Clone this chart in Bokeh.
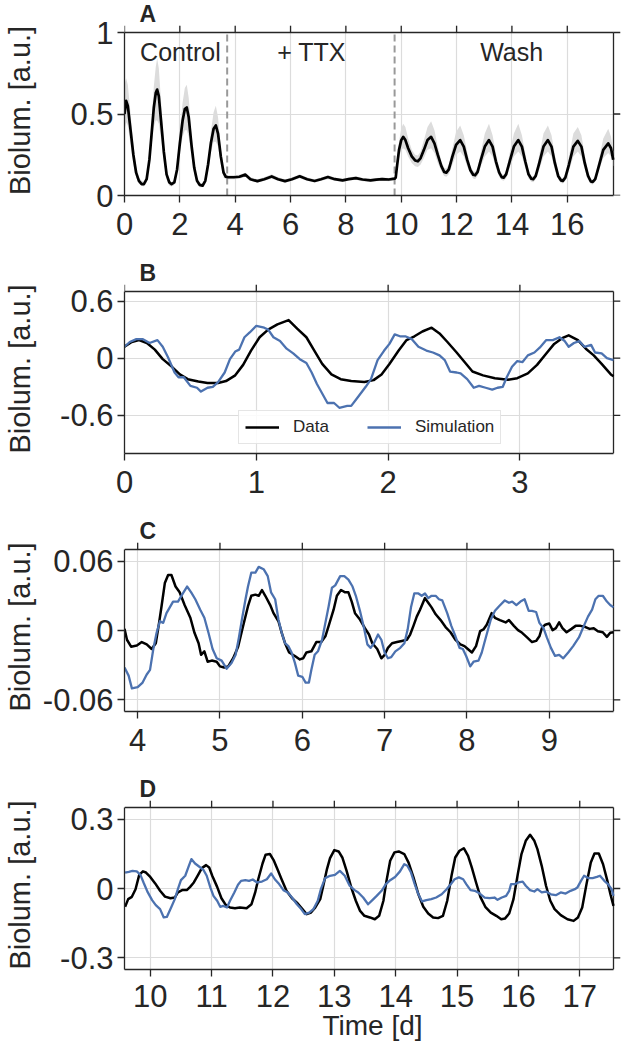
from bokeh.plotting import figure
from bokeh.models import (FixedTicker, CustomJSTickFormatter, Range1d,
                          Label, Legend, LegendItem, ColumnDataSource)
from bokeh.layouts import column
from bokeh.embed import file_html
from bokeh.resources import INLINE

# ---------------- data ----------------
# Panel A: (time [d], mean, band upper, band lower)
a_trace = [
    (0.00, 0.50, 0.68, 0.40), (0.06, 0.58, 0.72, 0.45), (0.12, 0.55, 0.68, 0.43),
    (0.22, 0.40, 0.50, 0.31), (0.32, 0.25, 0.31, 0.19), (0.42, 0.14, 0.18, 0.11),
    (0.52, 0.09, 0.11, 0.07), (0.62, 0.07, 0.09, 0.06), (0.70, 0.07, 0.085, 0.055),
    (0.80, 0.10, 0.12, 0.08), (0.90, 0.22, 0.27, 0.18), (0.98, 0.38, 0.46, 0.31),
    (1.06, 0.54, 0.67, 0.42), (1.13, 0.63, 0.79, 0.46), (1.18, 0.65, 0.84, 0.46),
    (1.24, 0.61, 0.78, 0.44), (1.32, 0.46, 0.58, 0.35), (1.42, 0.27, 0.33, 0.21),
    (1.52, 0.13, 0.16, 0.10), (1.62, 0.08, 0.095, 0.06), (1.70, 0.07, 0.08, 0.055),
    (1.80, 0.08, 0.10, 0.065), (1.90, 0.16, 0.20, 0.13), (2.00, 0.32, 0.40, 0.26),
    (2.10, 0.46, 0.57, 0.36), (2.18, 0.53, 0.66, 0.40), (2.25, 0.54, 0.68, 0.40),
    (2.32, 0.48, 0.60, 0.36), (2.42, 0.31, 0.38, 0.24), (2.52, 0.17, 0.20, 0.13),
    (2.62, 0.09, 0.11, 0.07), (2.72, 0.065, 0.08, 0.05), (2.82, 0.06, 0.075, 0.05),
    (2.92, 0.09, 0.11, 0.07), (3.02, 0.19, 0.23, 0.15), (3.12, 0.32, 0.39, 0.26),
    (3.22, 0.41, 0.51, 0.33), (3.30, 0.43, 0.55, 0.33), (3.38, 0.38, 0.48, 0.30),
    (3.48, 0.24, 0.29, 0.19), (3.58, 0.14, 0.16, 0.11), (3.66, 0.115, 0.13, 0.10),
    (3.75, 0.112, 0.125, 0.10), (3.95, 0.112, 0.125, 0.10), (4.15, 0.115, 0.128, 0.103),
    (4.37, 0.128, 0.14, 0.115), (4.55, 0.10, 0.112, 0.09), (4.80, 0.088, 0.10, 0.078),
    (5.05, 0.10, 0.112, 0.09), (5.32, 0.117, 0.13, 0.105), (5.55, 0.10, 0.112, 0.09),
    (5.80, 0.088, 0.10, 0.078), (6.05, 0.10, 0.11, 0.09), (6.33, 0.118, 0.13, 0.106),
    (6.60, 0.10, 0.11, 0.09), (6.87, 0.089, 0.10, 0.08), (7.10, 0.10, 0.11, 0.09),
    (7.35, 0.113, 0.125, 0.10), (7.60, 0.10, 0.11, 0.09), (7.88, 0.093, 0.103, 0.083),
    (8.10, 0.10, 0.11, 0.09), (8.36, 0.107, 0.118, 0.097), (8.60, 0.098, 0.108, 0.088),
    (8.89, 0.093, 0.103, 0.083), (9.10, 0.097, 0.107, 0.087), (9.31, 0.10, 0.11, 0.09),
    (9.55, 0.098, 0.108, 0.088), (9.76, 0.103, 0.113, 0.093), (9.80, 0.11, 0.12, 0.10),
    (9.84, 0.17, 0.20, 0.15), (9.92, 0.28, 0.33, 0.23), (10.00, 0.34, 0.41, 0.28),
    (10.07, 0.36, 0.44, 0.29), (10.15, 0.34, 0.42, 0.28), (10.25, 0.29, 0.35, 0.24),
    (10.38, 0.24, 0.28, 0.20), (10.50, 0.215, 0.25, 0.18), (10.60, 0.21, 0.245, 0.175),
    (10.70, 0.23, 0.27, 0.19), (10.82, 0.28, 0.34, 0.23), (10.95, 0.34, 0.42, 0.28),
    (11.08, 0.36, 0.455, 0.29), (11.20, 0.32, 0.40, 0.26), (11.32, 0.25, 0.30, 0.20),
    (11.45, 0.18, 0.21, 0.15), (11.55, 0.145, 0.17, 0.12), (11.63, 0.14, 0.165, 0.115),
    (11.72, 0.16, 0.19, 0.13), (11.85, 0.24, 0.29, 0.19), (11.98, 0.31, 0.39, 0.25),
    (12.13, 0.34, 0.43, 0.27), (12.26, 0.30, 0.37, 0.24), (12.38, 0.22, 0.27, 0.18),
    (12.50, 0.155, 0.18, 0.13), (12.60, 0.127, 0.15, 0.105), (12.67, 0.124, 0.145, 0.10),
    (12.76, 0.145, 0.17, 0.12), (12.88, 0.22, 0.27, 0.18), (13.02, 0.30, 0.38, 0.24),
    (13.17, 0.34, 0.44, 0.27), (13.30, 0.30, 0.37, 0.24), (13.42, 0.21, 0.26, 0.17),
    (13.54, 0.14, 0.165, 0.115), (13.63, 0.113, 0.13, 0.095), (13.70, 0.11, 0.128, 0.09),
    (13.79, 0.13, 0.155, 0.105), (13.92, 0.21, 0.26, 0.17), (14.07, 0.30, 0.38, 0.24),
    (14.23, 0.34, 0.44, 0.27), (14.36, 0.30, 0.37, 0.24), (14.48, 0.21, 0.26, 0.17),
    (14.60, 0.13, 0.155, 0.105), (14.70, 0.103, 0.12, 0.085), (14.77, 0.10, 0.117, 0.082),
    (14.86, 0.12, 0.14, 0.10), (14.99, 0.20, 0.25, 0.16), (15.14, 0.30, 0.38, 0.24),
    (15.30, 0.34, 0.43, 0.27), (15.43, 0.30, 0.37, 0.24), (15.55, 0.20, 0.25, 0.16),
    (15.67, 0.12, 0.145, 0.10), (15.77, 0.093, 0.11, 0.077), (15.84, 0.09, 0.106, 0.074),
    (15.93, 0.11, 0.13, 0.09), (16.06, 0.19, 0.24, 0.15), (16.22, 0.30, 0.38, 0.24),
    (16.38, 0.335, 0.42, 0.27), (16.51, 0.30, 0.37, 0.24), (16.63, 0.20, 0.25, 0.16),
    (16.75, 0.12, 0.145, 0.10), (16.85, 0.086, 0.10, 0.07), (16.92, 0.083, 0.097, 0.068),
    (17.01, 0.10, 0.12, 0.085), (17.14, 0.18, 0.22, 0.15), (17.30, 0.28, 0.35, 0.23),
    (17.48, 0.32, 0.41, 0.26), (17.58, 0.29, 0.36, 0.24), (17.66, 0.22, 0.27, 0.18),
]
a_phase_bounds = [3.71, 9.76]
a_phase_names = ["Control", "+ TTX", "Wash"]
a_phase_label_x = [2.02, 6.76, 13.99]

# Panel B: (time, value)
b_data = [
    (0.00, 0.12), (0.055, 0.17), (0.11, 0.19), (0.17, 0.16), (0.23, 0.09), (0.29, -0.01),
    (0.36, -0.09), (0.42, -0.17), (0.48, -0.22), (0.56, -0.245), (0.63, -0.26), (0.71, -0.26),
    (0.77, -0.24), (0.84, -0.18), (0.90, -0.07), (0.96, 0.08), (1.025, 0.22), (1.09, 0.30),
    (1.16, 0.355), (1.245, 0.40), (1.31, 0.31), (1.38, 0.22), (1.44, 0.08), (1.50, -0.06),
    (1.57, -0.17), (1.64, -0.22), (1.72, -0.24), (1.82, -0.25), (1.89, -0.23), (1.95, -0.17),
    (2.01, -0.06), (2.08, 0.08), (2.14, 0.19), (2.20, 0.23), (2.26, 0.28), (2.33, 0.32),
    (2.39, 0.26), (2.45, 0.17), (2.52, 0.06), (2.58, -0.04), (2.64, -0.14), (2.72, -0.18),
    (2.81, -0.21), (2.91, -0.225), (2.98, -0.21), (3.06, -0.16), (3.13, -0.07), (3.20, 0.05),
    (3.26, 0.15), (3.32, 0.21), (3.37, 0.24), (3.44, 0.19), (3.50, 0.10), (3.56, 0.03),
    (3.62, -0.06), (3.69, -0.17), (3.71, -0.19),
]
b_sim = [
    (0.00, 0.12), (0.04, 0.17), (0.09, 0.20), (0.14, 0.20), (0.19, 0.16), (0.25, 0.19),
    (0.29, 0.12), (0.33, 0.01), (0.38, -0.15), (0.41, -0.20), (0.45, -0.20), (0.50, -0.29),
    (0.55, -0.31), (0.58, -0.35), (0.63, -0.31), (0.67, -0.30), (0.71, -0.25), (0.76, -0.15),
    (0.80, -0.01), (0.84, 0.07), (0.87, 0.09), (0.91, 0.22), (0.95, 0.27), (1.00, 0.34),
    (1.06, 0.32), (1.09, 0.30), (1.13, 0.22), (1.18, 0.18), (1.23, 0.10), (1.28, 0.05),
    (1.33, -0.01), (1.38, -0.05), (1.42, -0.15), (1.46, -0.27), (1.50, -0.37), (1.54, -0.47),
    (1.59, -0.47), (1.63, -0.52), (1.69, -0.50), (1.72, -0.50), (1.77, -0.41), (1.83, -0.30),
    (1.87, -0.22), (1.92, -0.02), (1.97, 0.08), (2.01, 0.15), (2.05, 0.25), (2.09, 0.23),
    (2.13, 0.23), (2.18, 0.20), (2.23, 0.12), (2.29, 0.08), (2.34, 0.06), (2.39, 0.03),
    (2.43, -0.02), (2.47, -0.14), (2.52, -0.15), (2.55, -0.16), (2.60, -0.22), (2.65, -0.31),
    (2.69, -0.29), (2.74, -0.31), (2.79, -0.33), (2.83, -0.31), (2.87, -0.30), (2.90, -0.20),
    (2.94, -0.09), (2.98, -0.03), (3.02, -0.04), (3.06, 0.03), (3.11, 0.06), (3.15, 0.11),
    (3.20, 0.19), (3.25, 0.19), (3.30, 0.22), (3.34, 0.18), (3.37, 0.12), (3.41, 0.16),
    (3.45, 0.18), (3.49, 0.12), (3.54, 0.14), (3.57, 0.06), (3.62, 0.05), (3.66, 0.00),
    (3.71, -0.02),
]

# Panel C
c_data = [
    (3.84, 0.0014), (3.87, -0.008), (3.92, -0.014), (3.99, -0.013), (4.05, -0.010), (4.11, -0.012),
    (4.17, -0.016), (4.22, -0.011), (4.26, 0.0066), (4.29, 0.021), (4.33, 0.041), (4.37, 0.048),
    (4.41, 0.048), (4.46, 0.038), (4.51, 0.033), (4.57, 0.022), (4.64, 0.011), (4.69, -0.002),
    (4.74, -0.011), (4.77, -0.021), (4.81, -0.018), (4.85, -0.027), (4.90, -0.026), (4.96, -0.027),
    (5.00, -0.031), (5.05, -0.032), (5.10, -0.031), (5.16, -0.024), (5.22, -0.014), (5.28, 0.0037),
    (5.34, 0.021), (5.38, 0.030), (5.43, 0.031), (5.47, 0.030), (5.51, 0.035), (5.55, 0.030),
    (5.61, 0.022), (5.65, 0.015), (5.71, 0.008), (5.75, -0.002), (5.79, -0.011), (5.84, -0.019),
    (5.91, -0.022), (5.97, -0.025), (6.01, -0.024), (6.05, -0.019), (6.11, -0.018), (6.17, -0.010),
    (6.23, -0.010), (6.28, -0.005), (6.32, 0.004), (6.38, 0.018), (6.42, 0.030), (6.47, 0.035),
    (6.52, 0.033), (6.56, 0.033), (6.60, 0.025), (6.64, 0.015), (6.70, 0.0095), (6.76, 0.002),
    (6.81, -0.0035), (6.85, -0.011), (6.91, -0.016), (6.96, -0.024), (7.00, -0.021), (7.04, -0.015),
    (7.09, -0.011), (7.15, -0.010), (7.21, -0.009), (7.27, -0.008), (7.31, -0.0035), (7.35, 0.004),
    (7.39, 0.012), (7.43, 0.018), (7.49, 0.028), (7.53, 0.024), (7.57, 0.020), (7.62, 0.014),
    (7.68, 0.009), (7.74, 0.003), (7.80, -0.0015), (7.86, -0.008), (7.92, -0.012), (7.97, -0.0135),
    (8.01, -0.016), (8.06, -0.019), (8.11, -0.0135), (8.16, -0.0006), (8.20, 0.0009), (8.24, 0.005),
    (8.30, 0.015), (8.34, 0.011), (8.40, 0.009), (8.47, 0.007), (8.51, 0.009), (8.57, 0.004),
    (8.62, 0.0003), (8.67, -0.002), (8.73, -0.006), (8.79, -0.010), (8.84, -0.009), (8.88, -0.005),
    (8.91, 0.002), (8.95, 0.005), (9.00, 0.006), (9.04, 0.0003), (9.08, 0.002), (9.12, 0.007),
    (9.16, 0.002), (9.21, -0.0015), (9.27, 0.0014), (9.32, 0.004), (9.38, 0.004), (9.44, 0.003),
    (9.49, 0.0014), (9.54, 0.002), (9.59, -0.0006), (9.65, -0.0015), (9.70, -0.0055), (9.74, -0.002),
    (9.78, -0.0015),
]
c_sim = [
    (3.84, -0.032), (3.89, -0.039), (3.93, -0.050), (4.00, -0.049), (4.06, -0.045), (4.11, -0.038),
    (4.15, -0.034), (4.19, -0.016), (4.23, -0.002), (4.27, 0.008), (4.31, 0.0066), (4.35, 0.015),
    (4.39, 0.020), (4.43, 0.025), (4.49, 0.025), (4.54, 0.031), (4.60, 0.038), (4.65, 0.033),
    (4.70, 0.027), (4.76, 0.018), (4.81, 0.011), (4.86, -0.002), (4.91, -0.016), (4.96, -0.024),
    (5.02, -0.026), (5.08, -0.033), (5.14, -0.028), (5.19, -0.021), (5.23, -0.006), (5.27, 0.011),
    (5.31, 0.027), (5.34, 0.038), (5.38, 0.050), (5.43, 0.050), (5.47, 0.055), (5.53, 0.053),
    (5.58, 0.047), (5.62, 0.033), (5.67, 0.027), (5.71, 0.0095), (5.75, -0.002), (5.79, -0.011),
    (5.83, -0.0135), (5.87, -0.019), (5.91, -0.028), (5.95, -0.039), (6.00, -0.040), (6.04, -0.045),
    (6.08, -0.045), (6.11, -0.034), (6.15, -0.021), (6.19, -0.018), (6.24, -0.008), (6.28, 0.0066),
    (6.32, 0.021), (6.36, 0.037), (6.40, 0.039), (6.46, 0.047), (6.51, 0.047), (6.56, 0.044),
    (6.61, 0.038), (6.65, 0.030), (6.70, 0.017), (6.75, 0.002), (6.79, -0.012), (6.83, -0.015),
    (6.87, -0.011), (6.92, -0.0035), (6.96, -0.008), (7.00, -0.019), (7.04, -0.024), (7.08, -0.023),
    (7.13, -0.018), (7.19, -0.015), (7.24, -0.011), (7.28, 0.001), (7.32, 0.020), (7.36, 0.032),
    (7.41, 0.032), (7.45, 0.030), (7.49, 0.032), (7.53, 0.028), (7.57, 0.030), (7.62, 0.030),
    (7.66, 0.027), (7.70, 0.026), (7.76, 0.015), (7.81, 0.004), (7.86, -0.005), (7.91, -0.015),
    (7.95, -0.016), (7.99, -0.022), (8.04, -0.031), (8.08, -0.027), (8.14, -0.026), (8.18, -0.019),
    (8.21, -0.011), (8.25, -0.0006), (8.29, 0.0095), (8.34, 0.017), (8.39, 0.021), (8.46, 0.026),
    (8.51, 0.024), (8.55, 0.025), (8.60, 0.022), (8.65, 0.025), (8.70, 0.027), (8.75, 0.017),
    (8.79, 0.017), (8.84, 0.016), (8.88, 0.0066), (8.93, 0.002), (8.97, -0.006), (9.02, -0.015),
    (9.07, -0.022), (9.12, -0.021), (9.17, -0.024), (9.23, -0.019), (9.29, -0.0135), (9.36, -0.006),
    (9.42, 0.004), (9.47, 0.012), (9.52, 0.018), (9.56, 0.027), (9.60, 0.030), (9.65, 0.030),
    (9.70, 0.025), (9.74, 0.022), (9.78, 0.020),
]

# Panel D
d_data = [
    (9.59, -0.079), (9.64, -0.046), (9.70, -0.036), (9.76, -0.003), (9.82, 0.059), (9.88, 0.074),
    (9.93, 0.069), (10.00, 0.050), (10.08, 0.022), (10.16, -0.010), (10.24, -0.035), (10.33, -0.042),
    (10.40, -0.039), (10.45, -0.017), (10.52, -0.007), (10.60, -0.006), (10.65, 0.007), (10.71, 0.026),
    (10.78, 0.059), (10.84, 0.088), (10.91, 0.101), (10.96, 0.091), (11.01, 0.055), (11.09, 0.007),
    (11.16, -0.042), (11.23, -0.071), (11.30, -0.082), (11.38, -0.085), (11.46, -0.082), (11.57, -0.085),
    (11.65, -0.068), (11.71, -0.017), (11.76, 0.040), (11.83, 0.108), (11.88, 0.146), (11.95, 0.149),
    (12.01, 0.123), (12.08, 0.079), (12.14, 0.040), (12.22, -0.010), (12.31, -0.042), (12.39, -0.061),
    (12.48, -0.089), (12.55, -0.111), (12.62, -0.104), (12.69, -0.082), (12.77, -0.046), (12.82, 0.012),
    (12.88, 0.084), (12.93, 0.131), (13.00, 0.166), (13.07, 0.160), (13.13, 0.134), (13.20, 0.076),
    (13.28, 0.001), (13.35, -0.053), (13.42, -0.097), (13.49, -0.118), (13.58, -0.125), (13.66, -0.133),
    (13.73, -0.118), (13.80, -0.053), (13.85, 0.033), (13.91, 0.120), (13.98, 0.156), (14.05, 0.160),
    (14.14, 0.149), (14.21, 0.112), (14.29, 0.048), (14.37, -0.025), (14.45, -0.079), (14.53, -0.108),
    (14.61, -0.125), (14.69, -0.128), (14.77, -0.118), (14.84, -0.053), (14.91, 0.055), (14.97, 0.134),
    (15.04, 0.163), (15.11, 0.174), (15.18, 0.141), (15.24, 0.091), (15.31, 0.026), (15.38, -0.036),
    (15.46, -0.079), (15.55, -0.104), (15.64, -0.118), (15.72, -0.133), (15.78, -0.130), (15.85, -0.108),
    (15.92, -0.046), (15.99, 0.062), (16.05, 0.149), (16.12, 0.206), (16.19, 0.232), (16.26, 0.206),
    (16.31, 0.170), (16.38, 0.098), (16.45, 0.012), (16.52, -0.053), (16.59, -0.089), (16.69, -0.115),
    (16.80, -0.133), (16.90, -0.140), (16.97, -0.125), (17.04, -0.082), (17.11, 0.019), (17.18, 0.112),
    (17.24, 0.151), (17.31, 0.151), (17.38, 0.105), (17.45, 0.033), (17.50, -0.025), (17.55, -0.075),
]
d_sim = [
    (9.59, 0.069), (9.65, 0.072), (9.71, 0.076), (9.78, 0.074), (9.84, 0.059), (9.89, 0.026),
    (9.96, -0.017), (10.03, -0.050), (10.09, -0.072), (10.16, -0.089), (10.22, -0.125), (10.27, -0.123),
    (10.34, -0.082), (10.40, -0.046), (10.45, -0.003), (10.50, 0.036), (10.57, 0.055), (10.62, 0.091),
    (10.67, 0.127), (10.73, 0.108), (10.80, 0.094), (10.87, 0.079), (10.92, 0.055), (10.98, 0.004),
    (11.03, -0.032), (11.09, -0.053), (11.14, -0.079), (11.19, -0.075), (11.25, -0.082), (11.30, -0.053),
    (11.37, -0.017), (11.43, 0.016), (11.48, 0.033), (11.55, 0.036), (11.61, 0.033), (11.67, 0.039),
    (11.74, 0.026), (11.82, 0.030), (11.90, 0.040), (11.97, 0.065), (12.03, 0.040), (12.10, 0.019),
    (12.17, -0.007), (12.24, -0.017), (12.31, -0.039), (12.39, -0.068), (12.46, -0.089), (12.52, -0.111),
    (12.59, -0.104), (12.66, -0.089), (12.73, -0.053), (12.78, -0.003), (12.85, 0.045), (12.93, 0.055),
    (13.01, 0.059), (13.09, 0.076), (13.17, 0.055), (13.25, 0.012), (13.33, -0.007), (13.39, -0.017),
    (13.47, -0.039), (13.55, -0.068), (13.62, -0.050), (13.69, -0.032), (13.77, -0.010), (13.84, 0.019),
    (13.91, 0.036), (13.99, 0.050), (14.07, 0.074), (14.14, 0.105), (14.19, 0.098), (14.25, 0.069),
    (14.31, 0.019), (14.37, -0.025), (14.43, -0.056), (14.50, -0.050), (14.58, -0.046), (14.66, -0.039),
    (14.75, -0.025), (14.83, -0.003), (14.90, 0.019), (14.96, 0.040), (15.03, 0.048), (15.10, 0.040),
    (15.15, 0.019), (15.22, -0.007), (15.29, -0.010), (15.37, -0.022), (15.45, -0.039), (15.53, -0.042),
    (15.61, -0.039), (15.66, -0.049), (15.73, -0.039), (15.80, -0.032), (15.85, -0.010), (15.88, 0.019),
    (15.94, 0.019), (16.00, 0.026), (16.07, 0.030), (16.12, 0.012), (16.19, -0.007), (16.26, -0.013),
    (16.31, -0.003), (16.38, -0.017), (16.45, -0.013), (16.53, -0.025), (16.61, -0.029), (16.69, -0.017),
    (16.77, -0.022), (16.85, -0.010), (16.92, -0.003), (16.96, 0.004), (17.02, 0.033), (17.07, 0.055),
    (17.14, 0.045), (17.21, 0.045), (17.28, 0.050), (17.33, 0.055), (17.40, 0.033), (17.46, 0.019),
    (17.52, -0.003), (17.55, -0.032),
]

# axes
a_xticks = [0, 2, 4, 6, 8, 10, 12, 14, 16]
a_yticks = [0, 0.5, 1]
b_xticks = [0, 1, 2, 3]
b_yticks = [-0.6, 0, 0.6]
c_xticks = [4, 5, 6, 7, 8, 9]
c_yticks = [-0.06, 0, 0.06]
d_xticks = [10, 11, 12, 13, 14, 15, 16, 17]
d_yticks = [-0.3, 0, 0.3]
series_labels = ["Data", "Simulation"]

# ---------------- style ----------------
FONT = "Liberation Sans"
INK = "#262626"
GRID = "#dcdcdc"
BLUE = "#4c72b0"
BAND = "#dcdcdc"
TICK_PX = "31px"
BOX_W = 489      # plotting box width (px)
TICK = 7         # outward tick length (px)

fmt = CustomJSTickFormatter(code="return String(Math.round(tick * 1000) / 1000);")


def style_axis(ax, ticks, bounds, standoff):
    ax.ticker = FixedTicker(ticks=ticks)
    ax.formatter = fmt
    ax.bounds = bounds
    ax.major_tick_out = TICK
    ax.major_tick_in = 0
    ax.minor_tick_out = 0
    ax.minor_tick_in = 0
    ax.major_tick_line_color = INK
    ax.major_tick_line_width = 1.3
    ax.axis_line_color = INK
    ax.axis_line_width = 1.3
    ax.major_label_text_font = FONT
    ax.major_label_text_color = INK
    ax.major_label_text_font_size = TICK_PX
    ax.major_label_standoff = standoff


def panel(letter, xr, yr, xticks, yticks, top, box_h, bottom, ylab_standoff, xstand=10):
    # the Bokeh frame is the plotting box plus a TICK-px strip on top and right,
    # where the top/right tick marks are drawn
    x_end = xr[1] + (xr[1] - xr[0]) * TICK / BOX_W
    y_end = yr[1] + (yr[1] - yr[0]) * TICK / box_h
    p = figure(frame_width=BOX_W + TICK, frame_height=box_h + TICK,
               x_range=Range1d(xr[0], x_end), y_range=Range1d(yr[0], y_end),
               output_backend="svg", toolbar_location=None,
               min_border_left=124, min_border_right=4,
               min_border_top=top, min_border_bottom=bottom,
               background_fill_color="white", border_fill_color="white")
    p.outline_line_color = None
    xa, ya = p.below[0], p.left[0]
    style_axis(xa, xticks, (xr[0], xr[1]), xstand)
    style_axis(ya, yticks, (yr[0], yr[1]), 4)
    ya.axis_label = "Biolum. [a.u.]"
    ya.axis_label_text_font = FONT
    ya.axis_label_text_font_size = "29px"
    ya.axis_label_text_font_style = "normal"
    ya.axis_label_text_color = INK
    ya.axis_label_standoff = ylab_standoff
    for g in (p.xgrid[0], p.ygrid[0]):
        g.grid_line_color = GRID
        g.grid_line_width = 1.2
    # top and right edges of the box, with their outward ticks
    p.segment(x0=[xr[0], xr[1]], y0=[yr[1], yr[0]], x1=[xr[1], xr[1]], y1=[yr[1], yr[1]],
              line_color=INK, line_width=1.3)
    p.segment(x0=xticks, y0=[yr[1]] * len(xticks), x1=xticks, y1=[y_end] * len(xticks),
              line_color=INK, line_width=1.3)
    p.segment(x0=[xr[1]] * len(yticks), y0=yticks, x1=[x_end] * len(yticks), y1=yticks,
              line_color=INK, line_width=1.3)
    p.title.text = letter
    p.title.align = "left"
    p.title.offset = 15
    p.title.standoff = -3
    p.title.text_font = FONT
    p.title.text_font_size = "23px"
    p.title.text_font_style = "bold"
    p.title.text_color = INK
    return p


def xy(pairs):
    return dict(x=[t for t, _ in pairs], y=[v for _, v in pairs])


# ---------------- panel A ----------------
pA = panel("A", (0, 17.67), (0, 1), a_xticks, a_yticks, 22, 163, 58, 31)
srcA = ColumnDataSource(dict(t=[r[0] for r in a_trace], m=[r[1] for r in a_trace],
                             u=[r[2] for r in a_trace], l=[r[3] for r in a_trace]))
pA.varea(x="t", y1="l", y2="u", source=srcA, fill_color=BAND, fill_alpha=1.0)
pA.segment(x0=a_phase_bounds, y0=[0] * len(a_phase_bounds), x1=a_phase_bounds,
           y1=[1] * len(a_phase_bounds), line_color="#999999", line_width=2, line_dash="7 4")
pA.line(x="t", y="m", source=srcA, line_color="black", line_width=2.7, line_join="round")
for name, lx in zip(a_phase_names, a_phase_label_x):
    pA.add_layout(Label(x=lx, y=0.883, text=name, text_font=FONT, text_font_size="25px",
                        text_color=INK, text_align="center", text_baseline="middle"))

# ---------------- panel B ----------------
pB = panel("B", (0, 3.71), (-1.0, 0.7), b_xticks, b_yticks, 31, 162, 58, 21)
rBd = pB.line(source=ColumnDataSource(xy(b_data)), x="x", y="y", line_color="black",
              line_width=2.5, line_join="round")
rBs = pB.line(source=ColumnDataSource(xy(b_sim)), x="x", y="y", line_color=BLUE,
              line_width=2.3, line_join="round")
leg = Legend(items=[LegendItem(label=series_labels[0], renderers=[rBd]),
                    LegendItem(label=series_labels[1], renderers=[rBs])],
             orientation="horizontal", location=(114, 9),
             label_text_font=FONT, label_text_font_size="17px", label_text_color=INK,
             glyph_width=34, glyph_height=18, label_height=18, label_standoff=14,
             spacing=38, padding=6, margin=0,
             border_line_color="#cccccc", border_line_width=1,
             background_fill_color="white", background_fill_alpha=0.85)
pB.add_layout(leg)

# ---------------- panel C ----------------
pC = panel("C", (3.84, 9.78), (-0.07, 0.07), c_xticks, c_yticks, 31, 162, 58, 4)
pC.line(source=ColumnDataSource(xy(c_data)), x="x", y="y", line_color="black",
        line_width=2.5, line_join="round")
pC.line(source=ColumnDataSource(xy(c_sim)), x="x", y="y", line_color=BLUE,
        line_width=2.3, line_join="round")

# ---------------- panel D ----------------
pD = panel("D", (9.58, 17.55), (-0.35, 0.35), d_xticks, d_yticks, 31, 162, 82, 21, xstand=8)
pD.line(source=ColumnDataSource(xy(d_data)), x="x", y="y", line_color="black",
        line_width=2.5, line_join="round")
pD.line(source=ColumnDataSource(xy(d_sim)), x="x", y="y", line_color=BLUE,
        line_width=2.3, line_join="round")
xa = pD.below[0]
xa.axis_label = "Time [d]"
xa.axis_label_text_font = FONT
xa.axis_label_text_font_size = "28px"
xa.axis_label_text_font_style = "normal"
xa.axis_label_text_color = INK
xa.axis_label_standoff = 0

layout = column(pA, pB, pC, pD, spacing=0)
open("out.html", "w").write(file_html(layout, INLINE))
